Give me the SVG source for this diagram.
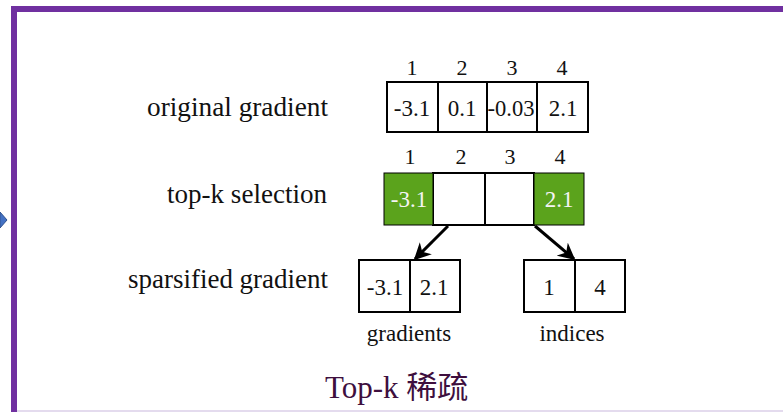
<svg xmlns="http://www.w3.org/2000/svg" width="783" height="412" viewBox="0 0 783 412">
  <defs>
    <marker id="arrowhead" viewBox="0 0 10 10" refX="9" refY="5" markerWidth="17" markerHeight="17" markerUnits="userSpaceOnUse" orient="auto">
      <path d="M0,0 L10,5 L0,10 L3,5 Z" fill="#000"/>
    </marker>
    <style>
      .lbl { font-family: "Liberation Serif", "Times New Roman", serif; font-size: 27px; fill: #111; }
      .sub { font-family: "Liberation Serif", "Times New Roman", serif; font-size: 23px; fill: #111; text-anchor: middle; }
      .num { font-family: "Liberation Serif", "Times New Roman", serif; font-size: 22px; fill: #111; text-anchor: middle; }
      .val { font-family: "Liberation Serif", "Times New Roman", serif; font-size: 23px; fill: #111; text-anchor: middle; }
      .inv { fill: #f4f4f4; }
      .cell { fill: #fff; stroke: #000; stroke-width: 2; }
      .green { fill: #5ba31c; stroke: #000; stroke-width: 1; }
      .conn { stroke: #000; stroke-width: 3; fill: none; }
    </style>
  </defs>

  <rect x="0" y="0" width="783" height="412" fill="#fff"/>

  <!-- slide frame -->
  <rect x="11" y="6" width="772" height="6" fill="#7030a0"/>
  <rect x="11" y="6" width="6" height="406" fill="#7030a0"/>
  <rect x="17" y="410" width="766" height="2" fill="#e4dbee"/>
  <polygon points="0,212 7,220 0,228" fill="#4472c4" stroke="#2f528f" stroke-width="1"/>

  <!-- row labels -->
  <g id="label-original">
    <text class="lbl" x="147" y="116" textLength="181" lengthAdjust="spacingAndGlyphs">original gradient</text>
  </g>
  <g id="label-topk">
    <text class="lbl" x="167" y="203" textLength="160" lengthAdjust="spacingAndGlyphs">top-k selection</text>
  </g>
  <g id="label-sparsified">
    <text class="lbl" x="128" y="288" textLength="200" lengthAdjust="spacingAndGlyphs">sparsified gradient</text>
  </g>

  <!-- original gradient vector -->
  <g id="original-gradient">
    <text class="num" x="412" y="75">1</text>
    <text class="num" x="462" y="75">2</text>
    <text class="num" x="512" y="75">3</text>
    <text class="num" x="562" y="75">4</text>
    <rect class="cell" x="387" y="82" width="51" height="50"/>
    <rect class="cell" x="438" y="82" width="49" height="50"/>
    <rect class="cell" x="487" y="82" width="50" height="50"/>
    <rect class="cell" x="537" y="82" width="51" height="50"/>
    <text class="val" x="412" y="116">-3.1</text>
    <text class="val" x="462" y="116">0.1</text>
    <text class="val" x="511" y="116" textLength="47" lengthAdjust="spacingAndGlyphs">-0.03</text>
    <text class="val" x="563" y="116">2.1</text>
  </g>

  <!-- top-k selection vector -->
  <g id="topk-selection">
    <text class="num" x="410" y="164">1</text>
    <text class="num" x="461" y="164">2</text>
    <text class="num" x="510" y="164">3</text>
    <text class="num" x="560" y="164">4</text>
    <rect class="cell" x="433" y="173" width="52" height="52"/>
    <rect class="cell" x="485" y="173" width="49" height="52"/>
    <rect class="green" x="384" y="173" width="49" height="52"/>
    <rect class="green" x="534" y="173" width="50" height="52"/>
    <text class="val inv" x="409" y="207">-3.1</text>
    <text class="val inv" x="559" y="207">2.1</text>
  </g>

  <!-- connectors -->
  <g id="connectors">
    <line class="conn" x1="448" y1="226" x2="415" y2="259" marker-end="url(#arrowhead)"/>
    <line class="conn" x1="535" y1="226" x2="574" y2="259" marker-end="url(#arrowhead)"/>
  </g>

  <!-- sparsified: values -->
  <g id="gradients">
    <rect class="cell" x="359" y="260" width="51" height="52"/>
    <rect class="cell" x="410" y="260" width="50" height="52"/>
    <text class="val" x="385" y="295">-3.1</text>
    <text class="val" x="434" y="295">2.1</text>
    <text class="sub" x="409" y="341">gradients</text>
  </g>

  <!-- sparsified: indices -->
  <g id="indices">
    <rect class="cell" x="524" y="260" width="51" height="52"/>
    <rect class="cell" x="575" y="260" width="50" height="52"/>
    <text class="val" x="549" y="295">1</text>
    <text class="val" x="600" y="295">4</text>
    <text class="sub" x="572" y="341">indices</text>
  </g>

  <!-- caption -->
  <g id="caption">
    <text x="325" y="398" style="font-family:'Liberation Serif','Noto Sans CJK SC',serif;font-size:31px;fill:#3e0f3e">Top-k 稀疏</text>
  </g>
</svg>
